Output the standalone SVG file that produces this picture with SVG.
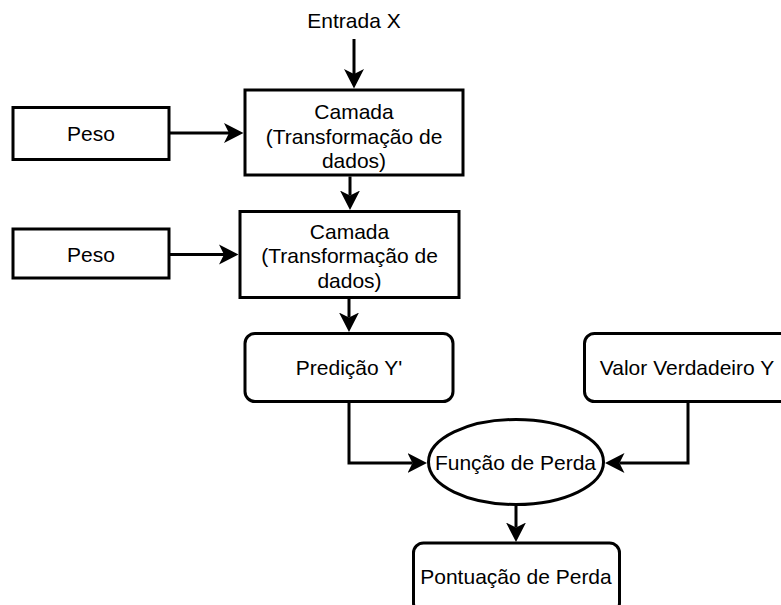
<svg xmlns="http://www.w3.org/2000/svg" width="781" height="605" viewBox="0 0 781 605">
  <style>
    .box { fill: #ffffff; stroke: #000000; stroke-width: 3; }
    .lbl { font-family: "Liberation Sans", Arial, Helvetica, sans-serif; font-size: 21px; fill: #000000; text-anchor: middle; }
    .edge { fill: none; stroke: #000000; stroke-width: 3; }
  </style>
  <defs>
    <marker id="arrow" viewBox="0 -11 21 22" refX="5" refY="0" markerWidth="21" markerHeight="22" markerUnits="userSpaceOnUse" orient="auto">
      <path d="M19.5,0 L0,-10 L5,0 L0,10 Z" fill="#000000"/>
    </marker>
  </defs>
  <rect width="781" height="605" fill="#ffffff"/>

  <!-- input label -->
  <g id="entrada">
    <text class="lbl" x="354" y="28">Entrada X</text>
  </g>

  <!-- weights -->
  <g id="peso1">
    <rect class="box" x="13" y="107.5" width="156" height="52"/>
    <text class="lbl" x="91" y="141">Peso</text>
  </g>
  <g id="peso2">
    <rect class="box" x="13" y="229" width="156" height="49"/>
    <text class="lbl" x="91" y="262">Peso</text>
  </g>

  <!-- layers -->
  <g id="camada1">
    <rect class="box" x="245" y="90" width="218" height="85"/>
    <text class="lbl" x="354" y="119">Camada</text>
    <text class="lbl" x="354" y="143.5">(Transformação de</text>
    <text class="lbl" x="354" y="168">dados)</text>
  </g>
  <g id="camada2">
    <rect class="box" x="240" y="211.5" width="219" height="86"/>
    <text class="lbl" x="349.5" y="238.5">Camada</text>
    <text class="lbl" x="349.5" y="263">(Transformação de</text>
    <text class="lbl" x="349.5" y="287.5">dados)</text>
  </g>

  <!-- prediction and ground truth -->
  <g id="predicao">
    <rect class="box" x="245" y="333.5" width="208" height="68" rx="10" ry="10"/>
    <text class="lbl" x="349" y="375">Predição Y'</text>
  </g>
  <g id="valor">
    <rect class="box" x="584.5" y="333.5" width="210" height="68" rx="10" ry="10"/>
    <text class="lbl" x="687" y="375">Valor Verdadeiro Y</text>
  </g>

  <!-- loss -->
  <g id="funcao">
    <ellipse class="box" cx="516" cy="462" rx="87.5" ry="42.5"/>
    <text class="lbl" x="515.5" y="469.5">Função de Perda</text>
  </g>
  <g id="pontuacao">
    <rect class="box" x="413.5" y="543" width="206" height="70" rx="10" ry="10"/>
    <text class="lbl" x="516" y="584">Pontuação de Perda</text>
  </g>

  <!-- connectors -->
  <g id="connectors">
    <path class="edge" d="M354,39 L354,74" marker-end="url(#arrow)"/>
    <path class="edge" d="M169,133 L229,133" marker-end="url(#arrow)"/>
    <path class="edge" d="M169,254.5 L224,254.5" marker-end="url(#arrow)"/>
    <path class="edge" d="M350,176.5 L350,195.5" marker-end="url(#arrow)"/>
    <path class="edge" d="M349,299 L349,317.5" marker-end="url(#arrow)"/>
    <path class="edge" d="M349,403 L349,463 L412.5,463" marker-end="url(#arrow)"/>
    <path class="edge" d="M688,403 L688,463 L619.5,463" marker-end="url(#arrow)"/>
    <path class="edge" d="M516,505.5 L516,527.5" marker-end="url(#arrow)"/>
  </g>
</svg>
